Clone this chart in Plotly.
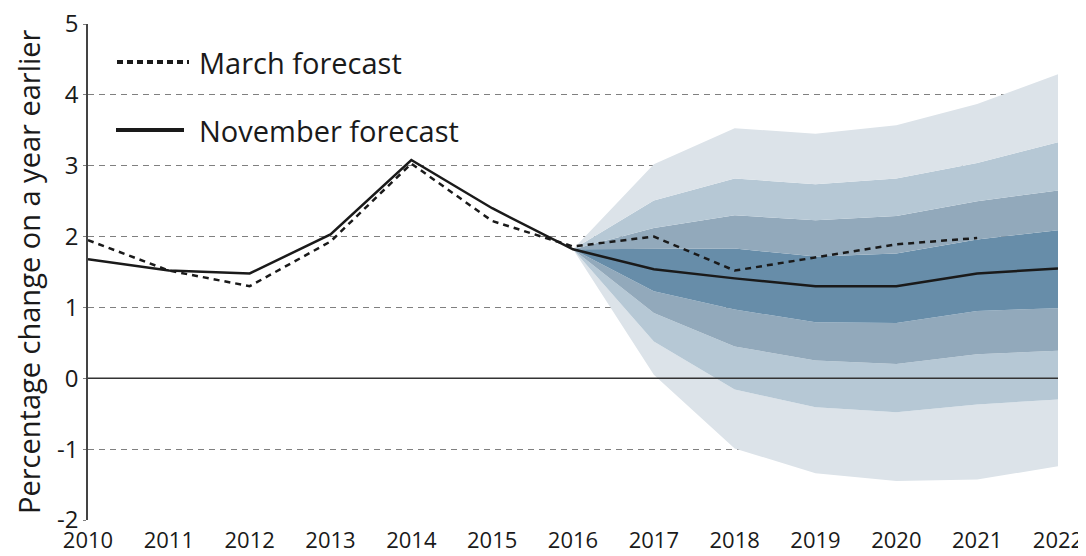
import plotly.graph_objects as go

# Historical + forecast lines
years = list(range(2010, 2023))
november = [1.68, 1.52, 1.48, 2.03, 3.08, 2.40, 1.82, 1.54, 1.41, 1.30, 1.30, 1.48, 1.55]
march_years = list(range(2010, 2022))
march = [1.95, 1.52, 1.30, 1.93, 3.03, 2.22, 1.86, 2.00, 1.52, 1.71, 1.89, 1.98]

# Fan chart bounds (2016-2022), from outer-lower to outer-upper
fan_years = list(range(2016, 2023))
lower3 = [1.82, 0.05, -0.99, -1.34, -1.45, -1.43, -1.24]
lower2 = [1.82, 0.52, -0.16, -0.41, -0.48, -0.37, -0.30]
lower1 = [1.82, 0.92, 0.45, 0.25, 0.20, 0.34, 0.39]
centre_lo = [1.82, 1.23, 0.97, 0.79, 0.78, 0.95, 0.99]
centre_hi = [1.82, 1.83, 1.83, 1.72, 1.76, 1.96, 2.09]
upper1 = [1.82, 2.12, 2.30, 2.23, 2.29, 2.50, 2.65]
upper2 = [1.82, 2.51, 2.82, 2.74, 2.82, 3.04, 3.33]
upper3 = [1.82, 3.02, 3.53, 3.45, 3.57, 3.87, 4.29]

y_ticks = [-2, -1, 0, 1, 2, 3, 4, 5]
y_labels = ["-2", "-1", "0", "1", "2", "3", "4", "5"]

FONT = "Open Sans"
INK = "#1a1a1a"
c1, c2, c3, c4 = "#dce3e9", "#b6c8d5", "#92a9bb", "#678da9"

fig = go.Figure()

bounds = [lower3, lower2, lower1, centre_lo, centre_hi, upper1, upper2, upper3]
fills = [None, c1, c2, c3, c4, c3, c2, c1]
for b, col in zip(bounds, fills):
    fig.add_trace(go.Scatter(
        x=fan_years, y=b, mode="lines", line=dict(width=0, color=col or c1),
        fill="tonexty" if col else None, fillcolor=col,
        showlegend=False, hoverinfo="skip"))

fig.add_trace(go.Scatter(x=years, y=november, mode="lines",
                         line=dict(color=INK, width=2.5), showlegend=False))
fig.add_trace(go.Scatter(x=march_years, y=march, mode="lines",
                         line=dict(color=INK, width=2.5, dash="6px,5px"),
                         showlegend=False))

# zero line
fig.add_hline(y=0, line=dict(color="#333333", width=1.5))

# hand-drawn legend (window pixel positions -> paper coords; plot area 88..1058 x 24..520)
def px(x):
    return (x - 88) / 970

def py(y):
    return (520 - y) / 496

fig.add_shape(type="line", xref="paper", yref="paper", x0=px(117), x1=px(189), y0=py(62), y1=py(62),
              line=dict(color=INK, width=4, dash="6px,4px"))
fig.add_shape(type="line", xref="paper", yref="paper", x0=px(116), x1=px(184), y0=py(130), y1=py(130),
              line=dict(color=INK, width=4))
fig.add_annotation(xref="paper", yref="paper", x=px(197), y=py(62), text="March forecast",
                   showarrow=False, xanchor="left", yanchor="middle",
                   font=dict(family=FONT, size=29, color=INK))
fig.add_annotation(xref="paper", yref="paper", x=px(197), y=py(130), text="November forecast",
                   showarrow=False, xanchor="left", yanchor="middle",
                   font=dict(family=FONT, size=29, color=INK))
# y-axis title
fig.add_annotation(xref="paper", yref="paper", x=px(28), y=0.5, text="Percentage change on a year earlier",
                   showarrow=False, textangle=-90, xanchor="center", yanchor="middle",
                   font=dict(family=FONT, size=29, color=INK))

# page body has an 8px margin, so the figure is shrunk by 8px each way
fig.update_layout(
    width=1078, height=548,
    margin=dict(l=80, r=28, t=16, b=36),
    plot_bgcolor="white", paper_bgcolor="white",
    font=dict(family=FONT, size=24, color=INK),
    xaxis=dict(range=[2010, 2022], tickmode="array", tickvals=years,
               showgrid=False, zeroline=False, showline=False, ticks="",
               automargin=False, ticklabeloverflow="allow", ticklabelstandoff=5,
               tickfont=dict(size=22)),
    yaxis=dict(range=[-2, 5], tickmode="array", tickvals=y_ticks, ticktext=y_labels,
               showgrid=True, gridcolor="#808080", griddash="6px,5px", gridwidth=1.3,
               zeroline=False, showline=True, linecolor="#444444", linewidth=1.5,
               ticks="outside", ticklen=3, tickcolor="#808080",
               automargin=False, ticklabeloverflow="allow", tickfont=dict(size=24)),
)

fig.write_html("out.html")
